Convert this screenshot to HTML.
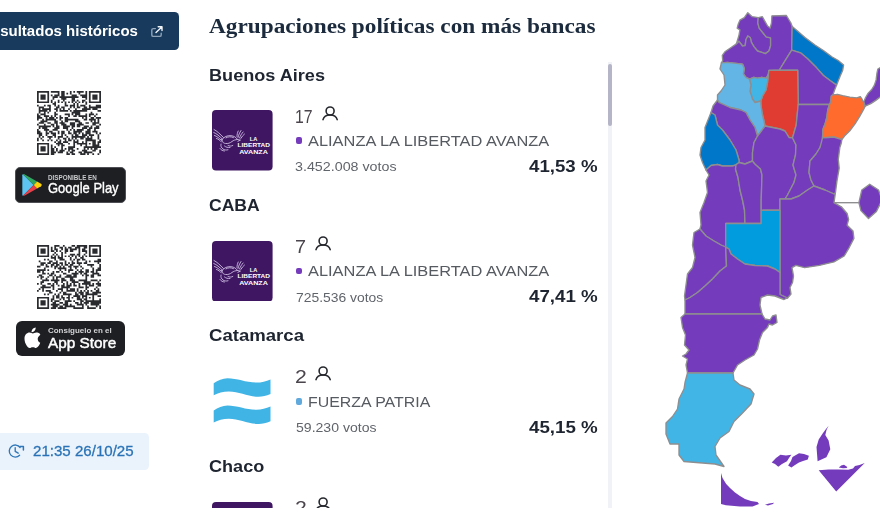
<!DOCTYPE html>
<html lang="es">
<head>
<meta charset="utf-8">
<title>Resultados</title>
<style>
*{box-sizing:border-box;margin:0;padding:0}
html,body{width:880px;height:512px;overflow:hidden;background:#fff}
body{position:relative;font-family:"Liberation Sans",sans-serif;color:#1f2937}
.abs{position:absolute}
.t{position:absolute;white-space:nowrap;line-height:1}
#btn-bg{left:-40px;top:12.1px;width:219.2px;height:37.6px;background:#173a5d;border-radius:4.5px}
#gp-bg{left:14.5px;top:166.75px;width:111px;height:35.75px;background:#1e1f23;border-radius:5px;border:1px solid #4d4f54}
#as-bg{left:15.5px;top:320.5px;width:109.5px;height:35px;background:#1e1f23;border-radius:6px}
#ts-bg{left:-10px;top:432.8px;width:158.7px;height:37.4px;background:#eaf2fc;border-radius:4.5px}
#list{left:200px;top:0;width:420px;height:507.7px;overflow:hidden}
.dot{left:95.9px;width:6.6px;height:6.4px;border-radius:2px}
#sb-track{left:408px;top:62px;width:4.3px;height:450px;background:#f1f2f8}
#sb{left:408px;top:63.75px;width:4.3px;height:62.6px;background:#b4b5c6;border-radius:2px}
#map{left:620px;top:0;width:260px;height:512px}
#btn{right:741.70px;transform-origin:100% 0;top:23.13px;font-weight:bold;font-size:15.5px;color:#ffffff;transform:scaleX(0.9696);}
#gp1{left:48.20px;transform-origin:0 0;top:174.79px;font-weight:bold;font-size:7.1px;color:#c9cacc;transform:scaleX(0.8843);}
#gp2{left:48.00px;transform-origin:0 0;top:180.97px;font-weight:normal;font-size:14.8px;color:#ffffff;transform:scaleX(0.8757);-webkit-text-stroke:.35px #fff;}
#as1{left:47.90px;transform-origin:0 0;top:327.40px;font-weight:bold;font-size:7.8px;color:#d2d3d5;transform:scaleX(1.0210);}
#as2{left:47.90px;transform-origin:0 0;top:334.53px;font-weight:normal;font-size:15.2px;color:#ffffff;transform:scaleX(1.0097);-webkit-text-stroke:.45px #fff;}
#ts{left:33.00px;transform-origin:0 0;top:443.30px;font-weight:normal;font-size:15px;color:#2a73b6;transform:scaleX(1.0051);-webkit-text-stroke:.3px #2a73b6;}
#h1{left:9.00px;transform-origin:0 0;top:16.35px;font-family:"Liberation Serif",serif;font-weight:bold;font-size:20.6px;color:#1b2a3d;transform:scaleX(1.1297);}
#p0{left:9.00px;transform-origin:0 0;top:67.66px;font-weight:bold;font-size:16px;color:#1e2530;transform:scaleX(1.1312);}
#n0{left:95.40px;transform-origin:0 0;top:108.53px;font-weight:normal;font-size:17.8px;color:#4a444c;transform:scaleX(0.8897);}
#m0{left:107.60px;transform-origin:0 0;top:133.70px;font-weight:normal;font-size:14.3px;color:#565a61;transform:scaleX(1.1469);}
#v0{left:95.30px;transform-origin:0 0;top:161.45px;font-weight:normal;font-size:12.7px;color:#60646b;transform:scaleX(1.1252);}
#c0{left:329.00px;transform-origin:0 0;top:158.06px;font-weight:bold;font-size:17.3px;color:#1e2530;transform:scaleX(1.0801);}
#p1{left:8.75px;transform-origin:0 0;top:198.06px;font-weight:bold;font-size:16px;color:#1e2530;transform:scaleX(1.0980);}
#n1{left:94.95px;transform-origin:0 0;top:238.93px;font-weight:normal;font-size:17.8px;color:#4a444c;transform:scaleX(1.1172);}
#m1{left:107.60px;transform-origin:0 0;top:264.10px;font-weight:normal;font-size:14.3px;color:#565a61;transform:scaleX(1.1469);}
#v1{left:95.75px;transform-origin:0 0;top:291.85px;font-weight:normal;font-size:12.7px;color:#60646b;transform:scaleX(1.0945);}
#c1{left:328.70px;transform-origin:0 0;top:288.46px;font-weight:bold;font-size:17.3px;color:#1e2530;transform:scaleX(1.0848);}
#p2{left:8.75px;transform-origin:0 0;top:328.46px;font-weight:bold;font-size:16px;color:#1e2530;transform:scaleX(1.1610);}
#n2{left:94.95px;transform-origin:0 0;top:369.33px;font-weight:normal;font-size:17.8px;color:#4a444c;transform:scaleX(1.1930);}
#m2{left:108.25px;transform-origin:0 0;top:394.50px;font-weight:normal;font-size:14.3px;color:#565a61;transform:scaleX(1.1125);}
#v2{left:95.75px;transform-origin:0 0;top:422.25px;font-weight:normal;font-size:12.7px;color:#60646b;transform:scaleX(1.1080);}
#c2{left:328.70px;transform-origin:0 0;top:418.86px;font-weight:bold;font-size:17.3px;color:#1e2530;transform:scaleX(1.0848);}
#p3{left:8.75px;transform-origin:0 0;top:458.86px;font-weight:bold;font-size:16px;color:#1e2530;transform:scaleX(1.1297);}
#n3{left:94.95px;transform-origin:0 0;top:499.73px;font-weight:normal;font-size:17.8px;color:#4a444c;transform:scaleX(1.1930);}
#m3{left:107.60px;transform-origin:0 0;top:524.90px;font-weight:normal;font-size:14.3px;color:#565a61;transform:scaleX(1.1469);}
#v3{left:95.75px;transform-origin:0 0;top:552.65px;font-weight:normal;font-size:12.7px;color:#60646b;transform:scaleX(1.0945);}
#c3{left:328.70px;transform-origin:0 0;top:549.26px;font-weight:bold;font-size:17.3px;color:#1e2530;transform:scaleX(1.0848);}
</style>
</head>
<body>
<svg width="0" height="0" style="position:absolute"><defs>
<g id="person" fill="none" stroke="#26282e" stroke-width="1.6" stroke-linecap="round"><circle cx="8.1" cy="5" r="4"/><path d="M1 13.600c.8-3 3.400-4.600 7.100-4.600s6.300 1.600 7.100 4.600"/></g>
<g id="lla"><rect width="60.600" height="60.600" rx="4" fill="#3f1661"/>
<g fill="none" stroke="#cdbde2" stroke-width=".9" stroke-linecap="round" stroke-linejoin="round">
<path d="M2 19.500c3 1.500 6 4.500 9.500 8M1.800 22.500c3 1.200 5.500 3.500 8.500 6.500M2.500 25.500c2.500.8 4.500 2.500 7 5M4.500 28.500c1.800.5 3.300 1.700 5 3.500"/>
<path d="M10 29.500c2-2.800 5.500-4.200 9-3.800 3 .3 5.200 1.700 6.500 3.800-2.200.2-4 .8-5.500 2-2 1.600-4 2.300-6.500 2-1.800-.2-3-.9-3.500-4z"/>
<path d="M14 27.800c2-1.300 5-1.400 7.500-.2M25.500 29.500l3 .6-2.600 1.200"/>
<path d="M26 27.500c.6-2.500 1.600-4.800 3-7M27.500 28c.9-2.300 2-4.300 3.600-6M28.800 28.500c1-1.800 2.200-3.300 3.700-4.500M25 26.500c0-2 .4-3.800 1.200-5.500"/>
<path d="M9 34c-.5 2 .3 3.800 2 5 1.500 1 3.300 1.300 5 .8M12.500 36c1.500 1.200 3.300 1.800 5.500 1.500M8 38.500c1 1.500 2.500 2.300 4.500 2.500M16 35.500c1.500.8 3.200.8 4.800 0"/>
</g>
<g fill="#fff" font-family="Liberation Sans, sans-serif" font-weight="bold" font-size="5.900">
<text x="37.700" y="31.300" textLength="7.600" lengthAdjust="spacingAndGlyphs">LA</text>
<text x="25.600" y="37.300" textLength="32.400" lengthAdjust="spacingAndGlyphs">LIBERTAD</text>
<text x="27.200" y="43.900" textLength="28.700" lengthAdjust="spacingAndGlyphs">AVANZA</text>
</g></g>
<g id="fp" fill="#40b4e5"><path id="fps" d="M1.700 12.300C6 9.500 10.500 7.300 15.500 7.300 25 7.300 34 11.600 44.400 11.600 49.500 11.600 54 10.300 58.500 8.400V23.100C54 25 50 25.900 46 25.800 36 25.500 27 20.500 16.900 20.500 11 20.500 6 22 1.700 24.300Z"/><use href="#fps" y="27.200"/></g>
</defs></svg>

<!-- LEFT COLUMN -->
<div class="abs" id="btn-bg"></div>
<div class="t" id="btn">Resultados históricos</div>
<svg class="abs" style="left:150px;top:24px" width="15" height="15" viewBox="150 24 15 15" fill="none" stroke-width="1.4" stroke-linecap="round" stroke-linejoin="round"><path stroke="#8fa3b9" d="M155.400 28.600H153.300a1.500 1.500 0 0 0-1.500 1.500v4.800a1.500 1.500 0 0 0 1.500 1.500h6.400a1.500 1.500 0 0 0 1.500-1.500V33.200"/><path stroke="#f2f5f8" d="M158.200 26.700h3.800v3.800M161.800 26.900 156 32.600"/></svg>
<svg class="abs" style="filter:blur(.45px);left:37.2px;top:90.6px" width="64" height="64" viewBox="0 0 37 37"><path fill="#2a2b2e" d="M0 0h7v1h-7zM8 0h5v1h-5zM14 0h2v1h-2zM19 0h1v1h-1zM21 0h1v1h-1zM23 0h4v1h-4zM28 0h1v1h-1zM30 0h7v1h-7zM0 1h1v1h-1zM6 1h1v1h-1zM12 1h1v1h-1zM14 1h2v1h-2zM17 1h1v1h-1zM19 1h1v1h-1zM24 1h1v1h-1zM28 1h1v1h-1zM30 1h1v1h-1zM36 1h1v1h-1zM0 2h1v1h-1zM2 2h3v1h-3zM6 2h1v1h-1zM8 2h1v1h-1zM10 2h3v1h-3zM14 2h2v1h-2zM20 2h3v1h-3zM25 2h4v1h-4zM30 2h1v1h-1zM32 2h3v1h-3zM36 2h1v1h-1zM0 3h1v1h-1zM2 3h3v1h-3zM6 3h1v1h-1zM9 3h3v1h-3zM13 3h11v1h-11zM26 3h3v1h-3zM30 3h1v1h-1zM32 3h3v1h-3zM36 3h1v1h-1zM0 4h1v1h-1zM2 4h3v1h-3zM6 4h1v1h-1zM9 4h1v1h-1zM14 4h3v1h-3zM20 4h2v1h-2zM28 4h1v1h-1zM30 4h1v1h-1zM32 4h3v1h-3zM36 4h1v1h-1zM0 5h1v1h-1zM6 5h1v1h-1zM8 5h1v1h-1zM12 5h1v1h-1zM15 5h1v1h-1zM20 5h2v1h-2zM23 5h1v1h-1zM26 5h2v1h-2zM30 5h1v1h-1zM36 5h1v1h-1zM0 6h7v1h-7zM8 6h1v1h-1zM10 6h1v1h-1zM12 6h1v1h-1zM14 6h1v1h-1zM16 6h1v1h-1zM18 6h1v1h-1zM20 6h1v1h-1zM22 6h1v1h-1zM24 6h1v1h-1zM26 6h1v1h-1zM28 6h1v1h-1zM30 6h7v1h-7zM9 7h2v1h-2zM16 7h1v1h-1zM21 7h1v1h-1zM23 7h1v1h-1zM28 7h1v1h-1zM0 8h1v1h-1zM4 8h1v1h-1zM6 8h2v1h-2zM10 8h1v1h-1zM12 8h1v1h-1zM16 8h2v1h-2zM19 8h3v1h-3zM23 8h1v1h-1zM25 8h3v1h-3zM30 8h1v1h-1zM34 8h3v1h-3zM1 9h3v1h-3zM7 9h1v1h-1zM11 9h2v1h-2zM14 9h2v1h-2zM19 9h1v1h-1zM21 9h1v1h-1zM23 9h2v1h-2zM27 9h2v1h-2zM30 9h7v1h-7zM1 10h1v1h-1zM3 10h5v1h-5zM10 10h2v1h-2zM13 10h1v1h-1zM15 10h1v1h-1zM18 10h1v1h-1zM22 10h1v1h-1zM26 10h5v1h-5zM32 10h3v1h-3zM1 11h5v1h-5zM7 11h1v1h-1zM11 11h1v1h-1zM13 11h5v1h-5zM19 11h1v1h-1zM21 11h8v1h-8zM35 11h2v1h-2zM1 12h1v1h-1zM4 12h1v1h-1zM6 12h1v1h-1zM10 12h1v1h-1zM20 12h5v1h-5zM31 12h1v1h-1zM0 13h1v1h-1zM2 13h3v1h-3zM10 13h2v1h-2zM16 13h3v1h-3zM20 13h1v1h-1zM22 13h3v1h-3zM28 13h1v1h-1zM30 13h3v1h-3zM34 13h1v1h-1zM0 14h2v1h-2zM4 14h3v1h-3zM8 14h1v1h-1zM10 14h1v1h-1zM13 14h1v1h-1zM18 14h1v1h-1zM21 14h2v1h-2zM24 14h5v1h-5zM30 14h1v1h-1zM33 14h1v1h-1zM0 15h3v1h-3zM5 15h1v1h-1zM7 15h3v1h-3zM11 15h1v1h-1zM13 15h2v1h-2zM16 15h2v1h-2zM26 15h1v1h-1zM28 15h1v1h-1zM31 15h2v1h-2zM34 15h3v1h-3zM0 16h1v1h-1zM3 16h1v1h-1zM5 16h6v1h-6zM13 16h1v1h-1zM16 16h8v1h-8zM27 16h2v1h-2zM30 16h4v1h-4zM35 16h1v1h-1zM2 17h4v1h-4zM10 17h2v1h-2zM14 17h1v1h-1zM16 17h2v1h-2zM22 17h3v1h-3zM31 17h1v1h-1zM33 17h1v1h-1zM35 17h1v1h-1zM1 18h3v1h-3zM6 18h2v1h-2zM10 18h2v1h-2zM13 18h3v1h-3zM19 18h3v1h-3zM24 18h2v1h-2zM28 18h2v1h-2zM32 18h4v1h-4zM0 19h1v1h-1zM4 19h1v1h-1zM8 19h2v1h-2zM11 19h1v1h-1zM14 19h3v1h-3zM19 19h3v1h-3zM23 19h4v1h-4zM32 19h2v1h-2zM36 19h1v1h-1zM1 20h7v1h-7zM9 20h1v1h-1zM11 20h2v1h-2zM15 20h4v1h-4zM20 20h2v1h-2zM23 20h2v1h-2zM27 20h3v1h-3zM31 20h1v1h-1zM34 20h2v1h-2zM1 21h1v1h-1zM3 21h3v1h-3zM10 21h3v1h-3zM15 21h3v1h-3zM20 21h1v1h-1zM26 21h3v1h-3zM30 21h2v1h-2zM33 21h3v1h-3zM0 22h1v1h-1zM4 22h3v1h-3zM9 22h3v1h-3zM17 22h1v1h-1zM19 22h1v1h-1zM21 22h1v1h-1zM23 22h4v1h-4zM29 22h2v1h-2zM33 22h1v1h-1zM0 23h2v1h-2zM5 23h1v1h-1zM7 23h2v1h-2zM12 23h1v1h-1zM14 23h2v1h-2zM18 23h1v1h-1zM21 23h5v1h-5zM28 23h3v1h-3zM32 23h3v1h-3zM0 24h3v1h-3zM5 24h2v1h-2zM8 24h3v1h-3zM12 24h1v1h-1zM14 24h2v1h-2zM18 24h2v1h-2zM21 24h2v1h-2zM24 24h1v1h-1zM26 24h1v1h-1zM28 24h3v1h-3zM34 24h1v1h-1zM36 24h1v1h-1zM1 25h2v1h-2zM5 25h1v1h-1zM9 25h2v1h-2zM14 25h1v1h-1zM16 25h1v1h-1zM20 25h1v1h-1zM22 25h2v1h-2zM26 25h3v1h-3zM30 25h3v1h-3zM35 25h1v1h-1zM1 26h1v1h-1zM3 26h1v1h-1zM6 26h3v1h-3zM10 26h1v1h-1zM12 26h3v1h-3zM17 26h1v1h-1zM20 26h8v1h-8zM29 26h1v1h-1zM31 26h1v1h-1zM35 26h1v1h-1zM0 27h1v1h-1zM2 27h1v1h-1zM7 27h1v1h-1zM12 27h1v1h-1zM15 27h2v1h-2zM18 27h1v1h-1zM20 27h1v1h-1zM22 27h1v1h-1zM25 27h2v1h-2zM28 27h4v1h-4zM35 27h1v1h-1zM0 28h1v1h-1zM3 28h1v1h-1zM6 28h1v1h-1zM8 28h1v1h-1zM11 28h1v1h-1zM13 28h1v1h-1zM16 28h1v1h-1zM18 28h2v1h-2zM21 28h1v1h-1zM23 28h1v1h-1zM28 28h6v1h-6zM36 28h1v1h-1zM10 29h1v1h-1zM12 29h2v1h-2zM15 29h3v1h-3zM21 29h3v1h-3zM26 29h1v1h-1zM28 29h1v1h-1zM32 29h2v1h-2zM35 29h2v1h-2zM0 30h7v1h-7zM11 30h4v1h-4zM18 30h1v1h-1zM21 30h1v1h-1zM23 30h6v1h-6zM30 30h1v1h-1zM32 30h2v1h-2zM35 30h1v1h-1zM0 31h1v1h-1zM6 31h1v1h-1zM8 31h1v1h-1zM12 31h1v1h-1zM14 31h2v1h-2zM21 31h1v1h-1zM25 31h1v1h-1zM28 31h1v1h-1zM32 31h4v1h-4zM0 32h1v1h-1zM2 32h3v1h-3zM6 32h1v1h-1zM8 32h1v1h-1zM10 32h1v1h-1zM14 32h1v1h-1zM18 32h4v1h-4zM27 32h10v1h-10zM0 33h1v1h-1zM2 33h3v1h-3zM6 33h1v1h-1zM8 33h2v1h-2zM11 33h1v1h-1zM14 33h1v1h-1zM16 33h1v1h-1zM18 33h3v1h-3zM23 33h1v1h-1zM27 33h1v1h-1zM29 33h1v1h-1zM31 33h1v1h-1zM33 33h2v1h-2zM0 34h1v1h-1zM2 34h3v1h-3zM6 34h1v1h-1zM8 34h2v1h-2zM11 34h1v1h-1zM13 34h3v1h-3zM18 34h1v1h-1zM20 34h2v1h-2zM26 34h3v1h-3zM32 34h2v1h-2zM36 34h1v1h-1zM0 35h1v1h-1zM6 35h1v1h-1zM8 35h3v1h-3zM12 35h3v1h-3zM17 35h1v1h-1zM19 35h2v1h-2zM24 35h2v1h-2zM27 35h5v1h-5zM36 35h1v1h-1zM0 36h7v1h-7zM8 36h2v1h-2zM17 36h2v1h-2zM20 36h2v1h-2zM25 36h3v1h-3zM29 36h1v1h-1zM32 36h1v1h-1zM35 36h1v1h-1z"/></svg>
<div class="abs" id="gp-bg"></div>
<svg class="abs" style="left:20px;top:172px" width="24" height="26" viewBox="20 172 24 26">
<path fill="#5cc3f2" d="M22.300 175.300V194.700c0 .6.300 1 .6 1.100L33.700 185 22.900 174.200c-.3.100-.6.500-.6 1.100z"/>
<path fill="#31a862" d="M22.900 174.200 33.700 185l3.400-3.400-12.300-7.100c-.7-.4-1.400-.5-1.900-.3z"/>
<path fill="#e8404a" d="M22.900 195.800 33.700 185l3.400 3.400-12.300 7.100c-.7.400-1.400.5-1.900.3z"/>
<path fill="#fbd20b" d="M37.100 181.600 33.700 185l3.400 3.400 3.900-2.200c1-.6 1-1.800 0-2.400z"/>
</svg><div class="t" id="gp1">DISPONIBLE EN</div><div class="t" id="gp2">Google Play</div>
<svg class="abs" style="filter:blur(.45px);left:37.2px;top:244.8px" width="64" height="64" viewBox="0 0 37 37"><path fill="#2a2b2e" d="M0 0h7v1h-7zM10 0h3v1h-3zM15 0h1v1h-1zM20 0h2v1h-2zM23 0h6v1h-6zM30 0h7v1h-7zM0 1h1v1h-1zM6 1h1v1h-1zM8 1h1v1h-1zM10 1h1v1h-1zM13 1h2v1h-2zM16 1h1v1h-1zM18 1h2v1h-2zM22 1h3v1h-3zM27 1h2v1h-2zM30 1h1v1h-1zM36 1h1v1h-1zM0 2h1v1h-1zM2 2h3v1h-3zM6 2h1v1h-1zM8 2h1v1h-1zM10 2h2v1h-2zM14 2h1v1h-1zM16 2h2v1h-2zM19 2h4v1h-4zM24 2h1v1h-1zM26 2h2v1h-2zM30 2h1v1h-1zM32 2h3v1h-3zM36 2h1v1h-1zM0 3h1v1h-1zM2 3h3v1h-3zM6 3h1v1h-1zM8 3h2v1h-2zM11 3h1v1h-1zM13 3h1v1h-1zM16 3h2v1h-2zM19 3h2v1h-2zM24 3h1v1h-1zM26 3h3v1h-3zM30 3h1v1h-1zM32 3h3v1h-3zM36 3h1v1h-1zM0 4h1v1h-1zM2 4h3v1h-3zM6 4h1v1h-1zM10 4h1v1h-1zM14 4h1v1h-1zM16 4h1v1h-1zM24 4h1v1h-1zM28 4h1v1h-1zM30 4h1v1h-1zM32 4h3v1h-3zM36 4h1v1h-1zM0 5h1v1h-1zM6 5h1v1h-1zM9 5h1v1h-1zM11 5h1v1h-1zM14 5h1v1h-1zM19 5h3v1h-3zM23 5h2v1h-2zM27 5h1v1h-1zM30 5h1v1h-1zM36 5h1v1h-1zM0 6h7v1h-7zM8 6h1v1h-1zM10 6h1v1h-1zM12 6h1v1h-1zM14 6h1v1h-1zM16 6h1v1h-1zM18 6h1v1h-1zM20 6h1v1h-1zM22 6h1v1h-1zM24 6h1v1h-1zM26 6h1v1h-1zM28 6h1v1h-1zM30 6h7v1h-7zM8 7h3v1h-3zM12 7h3v1h-3zM19 7h1v1h-1zM22 7h1v1h-1zM25 7h2v1h-2zM4 8h1v1h-1zM6 8h1v1h-1zM10 8h1v1h-1zM13 8h3v1h-3zM19 8h1v1h-1zM21 8h1v1h-1zM23 8h2v1h-2zM26 8h2v1h-2zM35 8h2v1h-2zM1 9h1v1h-1zM7 9h2v1h-2zM11 9h1v1h-1zM16 9h1v1h-1zM20 9h1v1h-1zM23 9h1v1h-1zM28 9h1v1h-1zM30 9h1v1h-1zM33 9h4v1h-4zM2 10h3v1h-3zM6 10h2v1h-2zM9 10h3v1h-3zM13 10h2v1h-2zM16 10h1v1h-1zM18 10h1v1h-1zM20 10h2v1h-2zM23 10h3v1h-3zM27 10h2v1h-2zM35 10h1v1h-1zM2 11h2v1h-2zM5 11h1v1h-1zM8 11h2v1h-2zM11 11h2v1h-2zM14 11h1v1h-1zM16 11h2v1h-2zM19 11h2v1h-2zM24 11h1v1h-1zM29 11h4v1h-4zM36 11h1v1h-1zM0 12h2v1h-2zM5 12h2v1h-2zM8 12h1v1h-1zM10 12h2v1h-2zM13 12h1v1h-1zM15 12h1v1h-1zM18 12h2v1h-2zM21 12h3v1h-3zM25 12h1v1h-1zM31 12h1v1h-1zM36 12h1v1h-1zM4 13h1v1h-1zM10 13h1v1h-1zM12 13h5v1h-5zM19 13h1v1h-1zM22 13h1v1h-1zM26 13h1v1h-1zM32 13h1v1h-1zM35 13h2v1h-2zM0 14h5v1h-5zM6 14h1v1h-1zM13 14h1v1h-1zM16 14h1v1h-1zM18 14h3v1h-3zM23 14h1v1h-1zM25 14h1v1h-1zM28 14h2v1h-2zM32 14h1v1h-1zM34 14h3v1h-3zM0 15h2v1h-2zM3 15h1v1h-1zM9 15h1v1h-1zM11 15h2v1h-2zM14 15h1v1h-1zM18 15h1v1h-1zM22 15h1v1h-1zM24 15h3v1h-3zM28 15h2v1h-2zM31 15h2v1h-2zM34 15h1v1h-1zM3 16h2v1h-2zM6 16h1v1h-1zM8 16h2v1h-2zM15 16h2v1h-2zM20 16h4v1h-4zM25 16h1v1h-1zM27 16h2v1h-2zM32 16h4v1h-4zM1 17h2v1h-2zM7 17h2v1h-2zM10 17h1v1h-1zM13 17h1v1h-1zM17 17h3v1h-3zM21 17h2v1h-2zM26 17h1v1h-1zM28 17h2v1h-2zM31 17h2v1h-2zM35 17h2v1h-2zM0 18h1v1h-1zM2 18h2v1h-2zM6 18h1v1h-1zM9 18h1v1h-1zM11 18h3v1h-3zM16 18h7v1h-7zM28 18h1v1h-1zM31 18h2v1h-2zM2 19h1v1h-1zM5 19h1v1h-1zM9 19h1v1h-1zM11 19h1v1h-1zM14 19h2v1h-2zM19 19h2v1h-2zM28 19h1v1h-1zM3 20h4v1h-4zM8 20h5v1h-5zM14 20h3v1h-3zM19 20h3v1h-3zM24 20h5v1h-5zM31 20h4v1h-4zM36 20h1v1h-1zM2 21h2v1h-2zM10 21h2v1h-2zM14 21h1v1h-1zM17 21h1v1h-1zM20 21h4v1h-4zM27 21h4v1h-4zM35 21h1v1h-1zM0 22h1v1h-1zM2 22h1v1h-1zM6 22h2v1h-2zM9 22h1v1h-1zM11 22h1v1h-1zM15 22h1v1h-1zM17 22h1v1h-1zM19 22h1v1h-1zM21 22h1v1h-1zM24 22h1v1h-1zM26 22h5v1h-5zM32 22h1v1h-1zM34 22h3v1h-3zM3 23h2v1h-2zM8 23h2v1h-2zM12 23h1v1h-1zM14 23h2v1h-2zM17 23h3v1h-3zM21 23h2v1h-2zM24 23h1v1h-1zM28 23h1v1h-1zM30 23h3v1h-3zM35 23h2v1h-2zM2 24h6v1h-6zM9 24h1v1h-1zM14 24h5v1h-5zM24 24h3v1h-3zM28 24h2v1h-2zM34 24h1v1h-1zM1 25h1v1h-1zM3 25h1v1h-1zM9 25h1v1h-1zM12 25h3v1h-3zM17 25h1v1h-1zM19 25h3v1h-3zM23 25h1v1h-1zM28 25h1v1h-1zM33 25h1v1h-1zM35 25h1v1h-1zM0 26h1v1h-1zM3 26h1v1h-1zM5 26h3v1h-3zM11 26h1v1h-1zM14 26h1v1h-1zM17 26h5v1h-5zM23 26h1v1h-1zM25 26h1v1h-1zM27 26h1v1h-1zM29 26h1v1h-1zM31 26h1v1h-1zM34 26h2v1h-2zM7 27h2v1h-2zM13 27h1v1h-1zM15 27h2v1h-2zM22 27h1v1h-1zM24 27h3v1h-3zM28 27h2v1h-2zM32 27h5v1h-5zM4 28h1v1h-1zM6 28h1v1h-1zM10 28h1v1h-1zM12 28h1v1h-1zM15 28h5v1h-5zM22 28h2v1h-2zM25 28h2v1h-2zM28 28h7v1h-7zM9 29h1v1h-1zM11 29h2v1h-2zM14 29h1v1h-1zM18 29h1v1h-1zM21 29h4v1h-4zM26 29h3v1h-3zM32 29h1v1h-1zM35 29h2v1h-2zM0 30h7v1h-7zM9 30h1v1h-1zM11 30h2v1h-2zM14 30h2v1h-2zM17 30h2v1h-2zM20 30h1v1h-1zM23 30h2v1h-2zM26 30h1v1h-1zM28 30h1v1h-1zM30 30h1v1h-1zM32 30h1v1h-1zM0 31h1v1h-1zM6 31h1v1h-1zM8 31h2v1h-2zM13 31h1v1h-1zM15 31h1v1h-1zM18 31h1v1h-1zM23 31h3v1h-3zM27 31h2v1h-2zM32 31h1v1h-1zM36 31h1v1h-1zM0 32h1v1h-1zM2 32h3v1h-3zM6 32h1v1h-1zM8 32h1v1h-1zM10 32h3v1h-3zM16 32h4v1h-4zM21 32h1v1h-1zM25 32h2v1h-2zM28 32h9v1h-9zM0 33h1v1h-1zM2 33h3v1h-3zM6 33h1v1h-1zM9 33h2v1h-2zM13 33h2v1h-2zM16 33h2v1h-2zM22 33h2v1h-2zM25 33h1v1h-1zM27 33h3v1h-3zM31 33h6v1h-6zM0 34h1v1h-1zM2 34h3v1h-3zM6 34h1v1h-1zM8 34h5v1h-5zM15 34h3v1h-3zM19 34h1v1h-1zM23 34h4v1h-4zM28 34h1v1h-1zM31 34h5v1h-5zM0 35h1v1h-1zM6 35h1v1h-1zM9 35h3v1h-3zM13 35h2v1h-2zM16 35h6v1h-6zM26 35h1v1h-1zM29 35h1v1h-1zM34 35h1v1h-1zM36 35h1v1h-1zM0 36h7v1h-7zM8 36h3v1h-3zM12 36h5v1h-5zM21 36h6v1h-6zM29 36h5v1h-5zM36 36h1v1h-1z"/></svg>
<div class="abs" id="as-bg"></div>
<svg class="abs" style="left:21.2px;top:325.8px" width="22.2" height="25.4" viewBox="0 0 21 24">
<path fill="#fff" d="M13.900 1.400c.1 1.100-.3 2.200-1 3-.7.800-1.800 1.500-2.900 1.400-.1-1.100.4-2.200 1-2.900.7-.8 1.900-1.400 2.900-1.500z"/>
<path fill="#fff" d="M17.700 8.900c-.1.100-1.900 1.100-1.900 3.400 0 2.700 2.300 3.600 2.400 3.600 0 .1-.4 1.300-1.200 2.600-.8 1.100-1.600 2.200-2.800 2.200s-1.600-.7-3-.7c-1.400 0-1.900.7-3 .7-1.200 0-2-1-2.900-2.300C4.200 16.800 3.300 14.300 3.300 12c0-3.800 2.400-5.800 4.800-5.800 1.300 0 2.300.8 3.100.8.800 0 1.900-.9 3.400-.9.500 0 2.500 0 3.800 1.900-.1.100-.6.400-.7.900z"/>
</svg><div class="t" id="as1">Consíguelo en el</div><div class="t" id="as2">App Store</div>
<div class="abs" id="ts-bg"></div>
<svg class="abs" style="left:6px;top:442px" width="20" height="18" viewBox="6 442 20 18" fill="none" stroke="#2f77b8" stroke-width="1.35" stroke-linecap="round" stroke-linejoin="round"><path d="M20.100 447.500A6 6 0 1 0 19.600 455.200"/><path d="M20 446.600h3.400v3.500" stroke-width="1.500"/><path d="M15.200 447.700v3.700l3 1.800"/></svg>
<div class="t" id="ts">21:35 26/10/25</div>

<!-- MIDDLE LIST -->
<div class="abs" id="list">
  <div class="t" id="h1">Agrupaciones políticas con más bancas</div>
  <!-- row 0: Buenos Aires -->
  <div class="t" id="p0">Buenos Aires</div>
  <svg class="abs" style="left:12.2px;top:110.4px" width="60.6" height="60.6" viewBox="0 0 60.6 60.6"><use href="#lla"/></svg>
  <div class="t" id="n0">17</div>
  <svg class="abs" style="left:122.2px;top:105.5px" width="17" height="15" viewBox="0 0 17 15"><use href="#person"/></svg>
  <div class="abs dot" style="top:137.4px;background:#753bbd"></div>
  <div class="t" id="m0">ALIANZA LA LIBERTAD AVANZA</div>
  <div class="t" id="v0">3.452.008 votos</div>
  <div class="t" id="c0">41,53 %</div>
  <!-- row 1: CABA -->
  <div class="t" id="p1">CABA</div>
  <svg class="abs" style="left:12.2px;top:240.8px" width="60.6" height="60.6" viewBox="0 0 60.6 60.6"><use href="#lla"/></svg>
  <div class="t" id="n1">7</div>
  <svg class="abs" style="left:115.2px;top:235.9px" width="17" height="15" viewBox="0 0 17 15"><use href="#person"/></svg>
  <div class="abs dot" style="top:267.8px;background:#753bbd"></div>
  <div class="t" id="m1">ALIANZA LA LIBERTAD AVANZA</div>
  <div class="t" id="v1">725.536 votos</div>
  <div class="t" id="c1">47,41 %</div>
  <!-- row 2: Catamarca -->
  <div class="t" id="p2">Catamarca</div>
  <svg class="abs" style="left:12.2px;top:371.2px" width="60.6" height="60.6" viewBox="0 0 60.6 60.6"><use href="#fp"/></svg>
  <div class="t" id="n2">2</div>
  <svg class="abs" style="left:115.1px;top:366.3px" width="17" height="15" viewBox="0 0 17 15"><use href="#person"/></svg>
  <div class="abs dot" style="top:398.2px;background:#5fa9dc"></div>
  <div class="t" id="m2">FUERZA PATRIA</div>
  <div class="t" id="v2">59.230 votos</div>
  <div class="t" id="c2">45,15 %</div>
  <!-- row 3: Chaco -->
  <div class="t" id="p3">Chaco</div>
  <svg class="abs" style="left:12.2px;top:501.6px" width="60.6" height="60.6" viewBox="0 0 60.6 60.6"><use href="#lla"/></svg>
  <div class="t" id="n3">2</div>
  <svg class="abs" style="left:115.1px;top:496.7px" width="17" height="15" viewBox="0 0 17 15"><use href="#person"/></svg>
  <div class="abs dot" style="top:528.6px;background:#753bbd"></div>
  <div class="t" id="m3">ALIANZA LA LIBERTAD AVANZA</div>
  <div class="t" id="v3">158.120 votos</div>
  <div class="t" id="c3">45,85 %</div>
  <div class="abs" id="sb-track"></div>
  <div class="abs" id="sb"></div>
</div>

<!-- MAP -->
<svg class="abs" id="map" viewBox="620 0 260 512" width="260" height="512">
<g stroke="#8e8e90" stroke-width="1.35" stroke-linejoin="round">
<path fill="#753bbd" d="M747.8,12.7 744.3,17.6 739.9,20.2 738.1,24.6 737.2,28.1 739.9,29.9 739,35.1 737.2,41.3 736.4,43.9 736.4,43.9 739,41.3 742.5,46 745.1,45.7 746,39.5 747.8,36 750.4,37.8 751.3,42.2 753.9,46.6 757.5,51 761.8,52.4 765.4,53.6 768.9,51 770.6,45.7 770.6,37.8 766.2,36.9 762.7,32.5 759.2,28.1 757.8,22.8 758.3,17.6 752.2,16.7Z"/><!-- jujuy -->
<path fill="#753bbd" d="M758.3,17.6 757.8,22.8 759.2,28.1 762.7,32.5 766.2,36.9 770.6,37.8 770.6,45.7 768.9,51 765.4,53.6 761.8,52.4 757.5,51 753.9,46.6 751.3,42.2 750.4,37.8 747.8,36 746,39.5 745.1,45.7 742.5,46 739,41.3 736.4,43.9 731.1,47.5 724.9,51.8 722.3,55.4 722.7,60.6 721.4,62.9 727.6,62.4 736.4,63.3 742.5,64.1 744.3,68.5 743.4,73.8 746,77.3 749.5,79.1 753.9,77.3 757.5,78.2 761.8,77.3 766.2,78.2 768.3,74.7 768.9,70.3 779.4,70 785.6,59.8 791.7,50.1 792.2,26.4 790.8,22.8 788.2,18.5 786.4,15.5 771.9,15.8 771.5,22.8 770.1,28.1 767.6,26 764.8,21.1 762.4,16.7 758.3,17.6Z"/><!-- salta -->
<path fill="#0077c8" d="M792.2,26.4 797.5,31 805,37.5 815,45 823.4,50.5 832.2,57 838.3,60.5 843.6,65 842.7,70.2 840,76.4 836.6,85.1 830.4,80.8 823.4,75.5 816.4,67.6 807.6,58.8 800.5,52.8 791.7,50.1Z"/><!-- formosa -->
<path fill="#753bbd" d="M779.4,70 785.6,59.8 791.7,50.1 800.5,52.8 807.6,58.8 816.4,67.6 823.4,75.5 830.4,80.8 836.6,85.1 834.8,89.5 833,94.5 831.3,96 830.4,102.7 829.5,104.5 798.2,104.5 797.7,70.2Z"/><!-- chaco -->
<path fill="#e03c31" d="M768.9,70.3 797.7,70.2 798.2,104.5 796.2,125 792.5,137.8 789,137.5 785,131 780,129 772.5,127.5 765,126 764.2,122 762,112.5 761,105 760.8,101 762.5,96 766,90 767.5,82.5 768.3,74.7Z"/><!-- santiago -->
<path fill="#41b6e6" d="M749.5,79.1 753.9,77.3 757.5,78.2 761.8,77.3 766.2,78.2 768.3,74.7 767.5,82.5 766,90 762.5,96 760.8,101 755,102.5 752.5,99 750,91 751,85 749.5,79.1Z"/><!-- tucuman -->
<path fill="#62b5e5" d="M721.4,62.9 727.6,62.4 736.4,63.3 742.5,64.1 744.3,68.5 743.4,73.8 746,77.3 749.5,79.1 751,85 750,91 752.5,99 755,102.5 760.8,101 761,105 762,112.5 764.2,122 765,126 761,131.5 757.5,136 755,127.5 750,120 746,112.5 741,110 730,107.5 719,102.5 717.5,100 717.5,95 721,91 725,85 724,75 720,69 721.4,62.9Z"/><!-- catamarca -->
<path fill="#753bbd" d="M717.5,100 719,102.5 730,107.5 741,110 746,112.5 750,120 755,127.5 757.5,136 754,142.5 752.5,152.5 752.5,161 745,164 739,162.5 739,160 736,150 730,140 722.5,130 717.5,125 715,115 711,112.5 713,106Z"/><!-- larioja -->
<path fill="#0077c8" d="M711,112.5 715,115 717.5,125 722.5,130 730,140 736,150 739,160 739,162.5 736,164.8 732.5,166 722.5,166 717.5,164.5 711,165.5 706,170 702.5,162.5 700,155 701,147.5 705,140 705,127.5 709,117.5Z"/><!-- sanjuan -->
<path fill="#753bbd" d="M706,170 711,165.5 717.5,164.5 722.5,166 732.5,166 736,164.8 735.5,169 738,177.5 740,190 742.5,200 744.5,210 745,223.5 725.7,223.5 725.7,247 721,245 714,241 706,236 700,229 701,225 700,212.5 704,202.5 707.5,192.5 706,181 709,175Z"/><!-- mendoza -->
<path fill="#753bbd" d="M736,164.8 739,162.5 745,164 752.5,161 755,164 760.5,169 762,175 761.2,200 761.2,210.3 761.2,223.5 745,223.5 744.5,210 742.5,200 740,190 738,177.5 735.5,169 736,164.8Z"/><!-- sanluis -->
<path fill="#753bbd" d="M757.5,136 761,131.5 765,126 772.5,127.5 780,129 785,131 789,137.5 792.5,137.8 796,145 795.5,155 793,165 796,175 794,182.5 787.5,195 785,199 780,199 780,210.2 761.2,210.3 761.2,200 762,175 760.5,169 755,164 752.5,161 752.5,152.5 754,142.5Z"/><!-- cordoba -->
<path fill="#753bbd" d="M798.2,104.5 829.5,104.5 827.8,109.8 826.9,116.8 825.1,123.8 823,129.1 822.5,137.9 823,140 820,147.5 816,154 810,161 809,172.5 811,180 814,186 807.5,190 799,196 791,199 785,199 787.5,195 794,182.5 796,175 793,165 795.5,155 796,145 792.5,137.8 796.2,125Z"/><!-- santafe -->
<path fill="#ff6b2c" d="M831.3,96 833,94.8 837.5,94.3 842.7,95.7 849.8,97.1 856.8,97.8 860.3,96.6 862,99.2 863.8,102.7 865.2,106.2 862.9,110.6 859.4,116.8 855,123.8 849.8,130.8 844.5,136.1 841.8,139.6 833.9,137 827.8,137.5 822.5,137.9 822.5,137.9 823,129.1 825.1,123.8 826.9,116.8 827.8,109.8 829.5,104.5 830.4,102.7Z"/><!-- corrientes -->
<path fill="#753bbd" d="M865.2,106.2 863.8,101.8 865.6,97.5 868.2,93.1 871.7,89.5 874.4,85.1 876.1,79.9 877,72.8 877.9,69 882,66.5 882,95.5 876.1,100.1 870.8,103.6Z"/><!-- misiones -->
<path fill="#753bbd" d="M822.5,137.9 827.8,137.5 833.9,137 841.8,139.6 841.3,143 839.8,147.6 838.3,159.3 839.2,168.1 836.9,181.3 835.4,193 834,194 825,190 814,186 811,180 809,172.5 810,161 816,154 820,147.5Z"/><!-- entrerios -->
<path fill="#753bbd" d="M780,199 785,199 791,199 799,196 807.5,190 814,186 825,190 834,194 835.4,193 834,202.7 841.3,206.8 847.1,213.5 848.6,219.4 847.1,225.2 853,231.1 853.9,238.4 848.6,248.7 844.2,256 834,261.9 819.3,265.4 804.7,267.7 795.9,265.4 792,267.7 793.5,276 792.5,282.5 790,287.5 791,294 787.5,298 780,294.5 780,272.5 780,210.2Z"/><!-- buenosaires -->
<path fill="#009cde" d="M761.2,210.3 780,210.2 780,272.5 775,269 767.5,266 755,265.5 745,264 737.5,259 731,254 729,249 725.7,247 725.7,223.5 761.2,223.5Z"/><!-- lapampa -->
<path fill="#753bbd" d="M700,229 706,236 714,241 721,245 725.7,247 726.5,266 720,271 712.5,279 705,286 697.5,292.5 690,297.5 685,300 684.5,296 686,285 687.5,274 692.5,267.5 695,257.5 692.5,245 694,232.5Z"/><!-- neuquen -->
<path fill="#753bbd" d="M725.7,247 729,249 731,254 737.5,259 745,264 755,265.5 767.5,266 775,269 780,272.5 780,294.5 787.5,298 784,299.5 775,296 767.5,295 761,297.5 760,305 762,314 685,314 685,307.5 685,300 690,297.5 697.5,292.5 705,286 712.5,279 720,271 726.5,266Z"/><!-- rionegro -->
<path fill="#753bbd" d="M685,314 762,314 765,319 770,320 772.5,316 776,315 777,322.5 772.5,325 769,324 767.5,327.5 762.5,332.5 759.5,340 757.5,349 754,355 745,360 737.5,365 733,373 687.5,373 686,365 687.5,359 682.5,356 686,354 689,350 684.5,345 685.5,335 682.5,327.5 681,317.5Z"/><!-- chubut -->
<path fill="#41b6e6" d="M687.5,373 733,373 734,380 740,385 750,389 754,394 751,404 742.5,413 734,421.5 729,431.5 720,438 715,446.5 716,455 724,466.5 715,464 702.5,463 684,461.5 679,455 679,444 670,444 666,434 666,423 672.5,416.5 677.5,409 679,399 684,389 685,382.5Z"/><!-- santacruz -->
<path fill="#753bbd" d="M869.7,184.2 878.5,190 882,200 876.4,211.5 868.5,218.5 860.9,210.6 858.9,202.7 861.8,190Z"/><!-- caba -->
<path fill="none" d="M834,202.7H858.9"/>
</g>
<g>
<path fill="#753bbd" d="M721,473 722.5,478 726.2,484 730,488 735,492.6 740,496 745,499 751,501 757.5,502 759,504 752.5,506.5 740,506.6 726,505.2 721,504Z"/><!-- tdf -->
<path fill="#753bbd" d="M765,504.8 769,503.5 774,502.8 773,504 768,505.5Z"/><!-- tdf2 -->
<path fill="#753bbd" d="M771.7,462.4 776,458 780.4,454.7 786,455.5 791.4,454.7 789,458 787,461.3 782,464 778.3,466.7 775,464Z"/><!-- malvw -->
<path fill="#753bbd" d="M792.5,456.9 799,453.2 804,454 808.9,455.8 807.8,459.5 803,461 799,462.4 795,465 791.4,467.4 788.1,465.6 791,461Z"/><!-- malve -->
<path fill="#753bbd" d="M828.6,425.8 826,429 823,433 818.7,439.4 816.5,447 817.6,461.3 826.4,457.3 830.3,449.2 828.6,440.5 825.3,435 826.5,430Z"/><!-- penin -->
<path fill="#753bbd" d="M818.7,470.2 828.6,469.6 838.4,469.4 848.3,469.8 853,468.6 855,466 859.5,465 864.7,463 836.2,491.5Z"/><!-- antar -->
<path fill="#753bbd" d="M838.8,467.6 841.2,465.6 844,464.8 846.2,466.2 847.4,467.9 843,468.3Z"/><!-- antar2 -->
</g></svg>

</body>
</html>
